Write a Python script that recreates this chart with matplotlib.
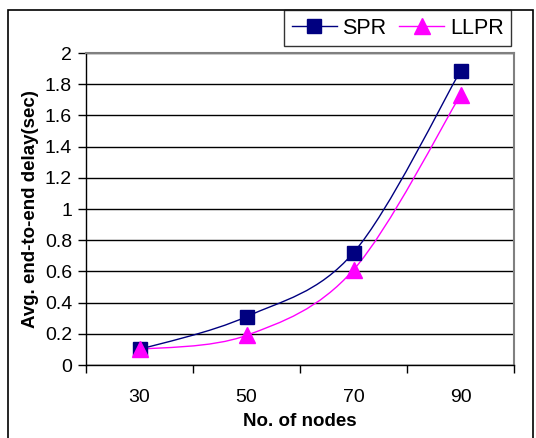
import matplotlib
matplotlib.use('Agg')
import matplotlib.pyplot as plt
import numpy as np
from matplotlib.path import Path
from matplotlib.patches import PathPatch, Rectangle
from matplotlib.lines import Line2D

# data
nodes = ['30', '50', '70', '90']
spr = [0.10, 0.31, 0.72, 1.885]
llpr = [0.10, 0.19, 0.61, 1.73]
y_ticks = [0, 0.2, 0.4, 0.6, 0.8, 1, 1.2, 1.4, 1.6, 1.8, 2]

plt.rcParams['font.family'] = ['Liberation Sans', 'DejaVu Sans']


def smooth_path(xs, ys):
    # Excel style smoothed line: cubic Bezier segments with Catmull-Rom control points
    pts = np.column_stack([xs, ys]).astype(float)
    ext = np.vstack([pts[0], pts, pts[-1]])
    verts = [pts[0]]
    codes = [Path.MOVETO]
    for i in range(1, len(ext) - 2):
        p0, p1, p2, p3 = ext[i - 1], ext[i], ext[i + 1], ext[i + 2]
        verts += [p1 + (p2 - p0) / 6, p2 - (p3 - p1) / 6, p2]
        codes += [Path.CURVE4] * 3
    return Path(verts, codes)


fig = plt.figure(figsize=(5.36, 4.38), dpi=100)
ax = fig.add_axes([86 / 536, 1 - 365 / 438, 428 / 536, 312 / 438])

x = np.arange(1, len(nodes) + 1)
series = [(spr, '#000080', 's', 10.5, 'SPR'), (llpr, '#FF00FF', '^', 11, 'LLPR')]
handles = []
for vals, col, mk, ms, name in series:
    ax.add_patch(PathPatch(smooth_path(x, vals), facecolor='none', edgecolor=col, lw=1.0, zorder=3))
    ax.plot(x, vals, linestyle='none', marker=mk, ms=ms, color=col, mec=col, zorder=4)
    handles.append(Line2D([], [], color=col, lw=1.0, marker=mk, ms=ms, mec=col))

ax.set_xlim(0.5, len(nodes) + 0.5)
ax.set_ylim(0, 2)
ax.set_yticks(y_ticks)
ax.set_yticklabels([f'{v:g}' for v in y_ticks])
ax.set_xticks(x)
ax.set_xticklabels(nodes)
ax.set_xticks(np.arange(0.5, len(nodes) + 1), minor=True)
ax.tick_params(axis='x', which='major', length=0, labelsize=14, pad=17)
ax.tick_params(axis='x', which='minor', length=6, width=1, color='black', direction='out')
ax.tick_params(axis='y', length=6, width=1, color='black', direction='out', labelsize=14, pad=4)
ax.yaxis.grid(True, color='black', lw=1)
ax.set_axisbelow(True)

for s in ['left', 'bottom']:
    ax.spines[s].set_color('black')
    ax.spines[s].set_linewidth(1)
for s in ['top', 'right']:
    ax.spines[s].set_color('#808080')
    ax.spines[s].set_linewidth(1.5)

ax.set_xlabel('No. of nodes', fontsize=13.5, fontweight='bold', labelpad=5)
ax.set_ylabel('Avg. end-to-end delay(sec)', fontsize=13.5, fontweight='bold', labelpad=4)

leg = fig.legend(handles, ['SPR', 'LLPR'], loc='upper left',
                 bbox_to_anchor=(284 / 536, 1 - 10 / 438), ncol=2, fontsize=15.5,
                 frameon=True, fancybox=False, borderaxespad=0, handlelength=2.1,
                 handletextpad=0.25, columnspacing=0.6, borderpad=0.35)
leg.get_frame().set_edgecolor('black')
leg.get_frame().set_linewidth(1)

# outer chart border (no bottom edge visible)
fig.patches.append(Rectangle((8 / 536, -0.05), 525 / 536, 1.05 - 10 / 438,
                             transform=fig.transFigure, fill=False, ec='black', lw=1.2))

fig.savefig('out.png', dpi=100)
